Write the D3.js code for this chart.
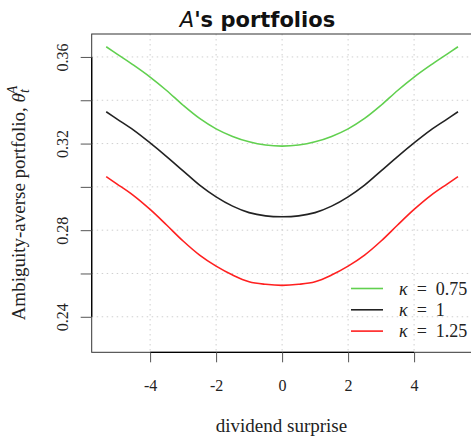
<!DOCTYPE html>
<html>
<head>
<meta charset="utf-8">
<script src="https://cdn.jsdelivr.net/npm/d3@7"></script>
<style>
  body { margin: 0; background: #fff; }
  svg { display: block; }
</style>
</head>
<body>
<svg id="plot"></svg>
<script>
const width = 471
const height = 436
const margin = ({top: 34, right: -1.5, bottom: 83.7, left: 91.7})

// dividend surprise grid
const surprise = [-5.33, -5, -4.5, -4, -3.5, -3, -2.5, -2, -1.5, -1, -0.5, 0,
  0.5, 1, 1.5, 2, 2.5, 3, 3.5, 4, 4.5, 5, 5.33]

// portfolio for each kappa
const kappa075 = [0.3647, 0.3613, 0.3562, 0.3507, 0.3445, 0.3377, 0.3316, 0.3268, 0.3233, 0.3208, 0.3193, 0.3188,
  0.3193, 0.3208, 0.3233, 0.3268, 0.3316, 0.3377, 0.3445, 0.3507, 0.3562, 0.3613, 0.3647]
const kappa1 = [0.3347, 0.3313, 0.3262, 0.3203, 0.3140, 0.3074, 0.3008, 0.2954, 0.2911, 0.2881, 0.2866, 0.2862,
  0.2866, 0.2881, 0.2911, 0.2954, 0.3008, 0.3074, 0.3140, 0.3203, 0.3262, 0.3313, 0.3347]
const kappa125 = [0.3047, 0.3013, 0.2960, 0.2896, 0.2824, 0.2750, 0.2685, 0.2634, 0.2593, 0.2562, 0.2550, 0.2545,
  0.2550, 0.2562, 0.2593, 0.2634, 0.2685, 0.2750, 0.2824, 0.2896, 0.2960, 0.3013, 0.3047]

const seriesNames = ['0.75', '1', '1.25']
const seriesColors = ['#61D04F', '#222222', '#FF2020']

const xTicks = [-4, -2, 0, 2, 4]
const yTicks = [0.24, 0.26, 0.28, 0.30, 0.32, 0.34, 0.36]
const yLabelTicks = [0.24, 0.28, 0.32, 0.36]

const x = d3.scaleLinear()
  .domain([-5.77, 5.77])
  .range([margin.left, width - margin.right])
const y = d3.scaleLinear()
  .domain([0.2236, 0.3706])
  .range([height - margin.bottom, margin.top])

const plot = d3.select('svg#plot')
  .attr('width', width)
  .attr('height', height)

const serif = "'Liberation Serif', 'DejaVu Serif', serif"

// dotted grid
plot.append('g')
  .selectAll('line')
  .data(xTicks)
  .join('line')
    .attr('x1', d => x(d)).attr('x2', d => x(d))
    .attr('y1', margin.top).attr('y2', height - margin.bottom)
    .attr('stroke', '#cfcfcf')
    .attr('stroke-dasharray', '1.5,3.5')
plot.append('g')
  .selectAll('line')
  .data(yTicks)
  .join('line')
    .attr('y1', d => y(d)).attr('y2', d => y(d))
    .attr('x1', margin.left).attr('x2', width)
    .attr('stroke', '#cfcfcf')
    .attr('stroke-dasharray', '1.5,3.5')

// box (right side falls just outside the picture)
plot.append('rect')
  .attr('x', margin.left)
  .attr('y', margin.top)
  .attr('width', width + 5 - margin.left)
  .attr('height', height - margin.bottom - margin.top)
  .attr('fill', 'none')
  .attr('stroke', '#333')

// axes
const xAxis = plot.append('g')
  .attr('transform', `translate(0, ${height - margin.bottom})`)
  .call(d3.axisBottom(x).tickValues(xTicks).tickSize(10).tickPadding(17)
    .tickFormat(d => d < 0 ? '-' + Math.abs(d) : d))
xAxis.select('.domain')
  .attr('d', `M${x(xTicks[0])},0H${x(xTicks[xTicks.length - 1])}`)
  .attr('stroke-width', 1.3)
xAxis.selectAll('.tick line').attr('stroke', '#555')
xAxis.selectAll('text')
  .attr('font-family', serif)
  .attr('font-size', 16)
  .attr('fill', '#222')

const yAxis = plot.append('g')
  .attr('transform', `translate(${margin.left}, 0)`)
  .call(d3.axisLeft(y).tickValues(yTicks).tickSize(11)
    .tickFormat(d => yLabelTicks.some(v => Math.abs(v - d) < 1e-9) ? d3.format('.2f')(d) : ''))
yAxis.select('.domain')
  .attr('d', `M0,${y(yTicks[0])}V${y(yTicks[yTicks.length - 1])}`)
  .attr('stroke-width', 1.3)
yAxis.selectAll('.tick line').attr('stroke', '#555')
yAxis.selectAll('text')
  .attr('font-family', serif)
  .attr('font-size', 16)
  .attr('fill', '#222')
  .attr('text-anchor', 'middle')
  .attr('dy', 0)
  .attr('x', 0)
  .attr('transform', 'translate(-24, 0) rotate(-90)')

// curves
const line = d3.line()
  .x(d => x(d[0]))
  .y(d => y(d[1]))
  .curve(d3.curveCatmullRom.alpha(0.5))

const allSeries = [kappa075, kappa1, kappa125]
plot.append('g')
  .selectAll('path')
  .data(allSeries)
  .join('path')
    .attr('d', vals => line(vals.map((v, i) => [surprise[i], v])))
    .attr('fill', 'none')
    .attr('stroke', (d, i) => seriesColors[i])
    .attr('stroke-width', 1.6)

// legend
const legend = plot.append('g')
  .attr('transform', 'translate(351, 288.5)')
seriesNames.forEach((name, i) => {
  const row = legend.append('g').attr('transform', `translate(0, ${i * 21.3})`)
  row.append('line')
    .attr('x1', 0).attr('x2', 32)
    .attr('stroke', seriesColors[i])
    .attr('stroke-width', 1.6)
  const t = row.append('text')
    .attr('x', 48)
    .attr('y', 6)
    .attr('font-family', serif)
    .attr('font-size', 18)
    .attr('fill', '#222')
  t.append('tspan').attr('font-style', 'italic').text('κ')
  t.append('tspan').text('\u2002=\u2002' + name)
})

// title
const title = plot.append('text')
  .attr('x', 257.5)
  .attr('y', 27)
  .attr('text-anchor', 'middle')
  .attr('font-family', "'DejaVu Sans', sans-serif")
  .attr('font-size', 21)
  .attr('fill', '#111')
title.append('tspan').attr('font-style', 'italic').text('A')
title.append('tspan').attr('font-weight', 'bold').text("'s portfolios")

// axis titles
plot.append('text')
  .attr('x', 281.5)
  .attr('y', 432)
  .attr('text-anchor', 'middle')
  .attr('font-family', serif)
  .attr('font-size', 19)
  .attr('fill', '#222')
  .text('dividend surprise')

const ylab = plot.append('text')
  .attr('transform', 'translate(25, 203) rotate(-90)')
  .attr('text-anchor', 'middle')
  .attr('font-family', serif)
  .attr('font-size', 19)
  .attr('fill', '#222')
ylab.append('tspan').text('Ambiguity-averse portfolio, ')
ylab.append('tspan').attr('font-style', 'italic').text('θ')
ylab.append('tspan').attr('font-style', 'italic').attr('font-size', 14).attr('dy', 4).text('t')
ylab.append('tspan').attr('font-style', 'italic').attr('font-size', 14).attr('dx', -5).attr('dy', -12).text('A')
</script>
</body>
</html>
